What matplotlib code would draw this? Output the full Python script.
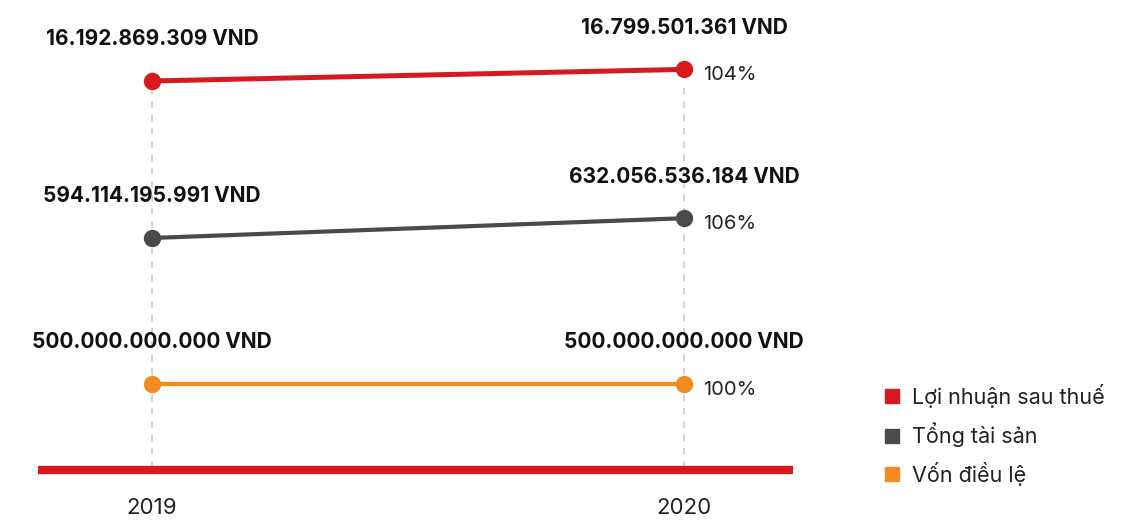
#!/usr/bin/env python3
"""Tăng trưởng 2019-2020: lợi nhuận, tổng tài sản, vốn điều lệ."""

import matplotlib
matplotlib.use("Agg")
import matplotlib.pyplot as plt
from matplotlib.lines import Line2D

plt.rcParams["font.family"] = ["Inter", "DejaVu Sans"]

# Dữ liệu
years = [2019, 2020]
series_names = ["Lợi nhuận sau thuế", "Tổng tài sản", "Vốn điều lệ"]
loi_nhuan = [16192869309, 16799501361]
tong_tai_san = [594114195991, 632056536184]
von_dieu_le = [500000000000, 500000000000]

COLORS = ["#d71920", "#4a4a4a", "#f58a1f"]
BAND_BASE = [81, 238, 384]   # vị trí dòng (pixel) cho năm gốc
GROWTH_SCALE = 310           # pixel cho mỗi 100% tăng trưởng


def fmt_vnd(v):
    return f"{v:,.0f}".replace(",", ".") + " VND"


def main():
    W, H = 1144, 523
    fig = plt.figure(figsize=(W / 100, H / 100), dpi=100)
    ax = fig.add_axes([0, 0, 1, 1])
    px = 532.0  # pixel / năm
    ax.set_xlim(2019 - 152 / px, 2019 + (W - 152) / px)
    ax.set_ylim(H, 0)
    ax.axis("off")

    # Lưới dọc nét đứt
    for yr in years:
        ax.plot([yr, yr], [88, 470], color="#cccccc", lw=1.2,
                ls=(0, (4, 4)), zorder=1)

    # Thanh đáy đỏ
    ax.hlines(470, 2019 + (38 - 152) / px, 2019 + (793 - 152) / px,
              color=COLORS[0], lw=6, zorder=2)

    for i, vals in enumerate([loi_nhuan, tong_tai_san, von_dieu_le]):
        ratios = [v / vals[0] for v in vals]
        ys = [BAND_BASE[i] - (r - 1) * GROWTH_SCALE for r in ratios]
        lw = 3.6 if i == 0 else 3.0
        ax.plot(years, ys, color=COLORS[i], lw=lw, marker="o",
                markersize=11.5, zorder=3, solid_capstyle="round")
        for x, y, v in zip(years, ys, vals):
            ax.annotate(fmt_vnd(v), (x, y), xytext=(0, 30),
                        textcoords="offset points", ha="center", va="center",
                        fontsize=15, fontweight="bold", color="#111111")
        pct = round(vals[-1] / vals[0] * 100)
        ax.annotate(f"{pct}%", (years[-1], ys[-1]), xytext=(14, -4),
                    textcoords="offset points", ha="left", va="center",
                    fontsize=14.5, color="#222222")

    for yr in years:
        ax.text(yr, 508, str(yr), ha="center", va="center",
                fontsize=16, color="#222222")

    handles = [Line2D([], [], ls="none", marker="s", markersize=10.5,
                      color=c) for c in COLORS]
    fig.legend(handles, series_names, loc="upper left",
               bbox_to_anchor=(884 / W, 1 - 384 / H), frameon=False,
               fontsize=15.5, handlelength=0.7, handletextpad=0.6,
               labelspacing=0.68, borderpad=0, borderaxespad=0,
               labelcolor="#222222")

    fig.savefig("out.png", dpi=100)
    plt.close(fig)


if __name__ == "__main__":
    main()
